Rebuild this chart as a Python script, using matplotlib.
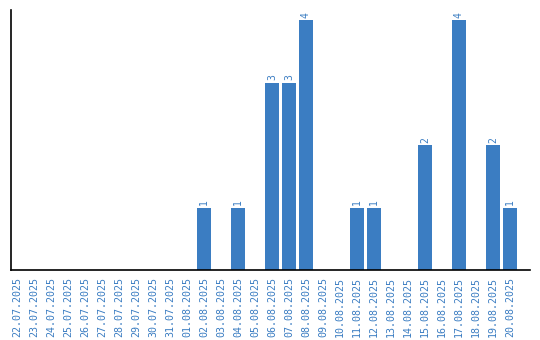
import matplotlib
matplotlib.use("Agg")
import matplotlib.pyplot as plt
import numpy as np

dates = ["22.07.2025", "23.07.2025", "24.07.2025", "25.07.2025", "26.07.2025",
         "27.07.2025", "28.07.2025", "29.07.2025", "30.07.2025", "31.07.2025",
         "01.08.2025", "02.08.2025", "03.08.2025", "04.08.2025", "05.08.2025",
         "06.08.2025", "07.08.2025", "08.08.2025", "09.08.2025", "10.08.2025",
         "11.08.2025", "12.08.2025", "13.08.2025", "14.08.2025", "15.08.2025",
         "16.08.2025", "17.08.2025", "18.08.2025", "19.08.2025", "20.08.2025"]
counts = [0, 0, 0, 0, 0, 0, 0, 0, 0, 0,
          0, 1, 0, 1, 0, 3, 3, 4, 0, 0,
          1, 1, 0, 0, 2, 0, 4, 0, 2, 1]

color = "#3b7dc2"
fig = plt.figure(figsize=(5.4, 3.4), dpi=100)
ax = fig.add_axes([11/540, 70/340, 519/540, 260/340])
x = np.arange(len(dates))
ax.bar(x, counts, width=0.82, color=color)
for xi, c in zip(x, counts):
    if c > 0:
        ax.text(xi, c + 0.04, str(c), rotation=90, ha="center", va="bottom",
                color=color, fontsize=7, family="DejaVu Sans Mono")
ax.set_xlim(-0.35, 30.18)
ax.set_ylim(0, 4.16)
ax.set_xticks(x)
ax.set_xticklabels(dates, rotation=90, fontsize=7.2, family="DejaVu Sans Mono", color=color)
ax.tick_params(axis="x", length=0, pad=5)
ax.set_yticks([])
ax.spines["top"].set_visible(False)
ax.spines["right"].set_visible(False)
ax.spines["left"].set_linewidth(1.2)
ax.spines["bottom"].set_linewidth(1.2)
fig.savefig("out.png", dpi=100)
